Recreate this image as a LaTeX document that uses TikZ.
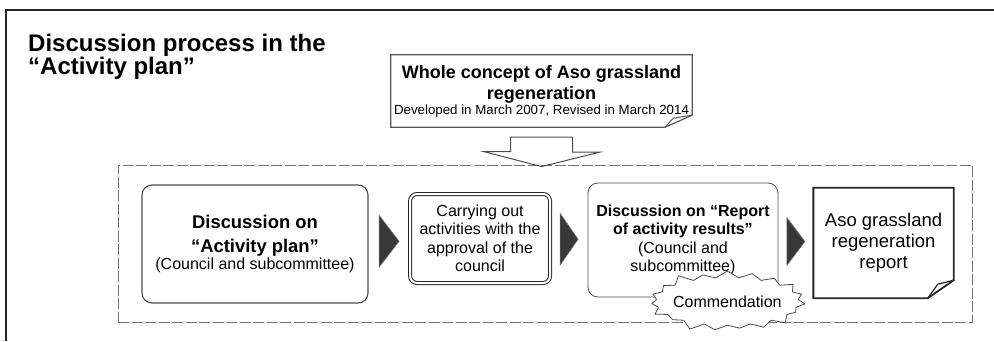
\documentclass[tikz,border=0pt]{standalone}
\usepackage{fontspec}
\setmainfont{Liberation Sans}
\usetikzlibrary{positioning,calc,shapes.symbols}
\tikzset{
  stage/.style={rectangle, rounded corners=10pt, draw=black!70, line width=1.1pt,
    align=center, inner sep=0pt},
  approved/.style={rectangle, rounded corners=7pt, draw=black!85, double=white,
    double distance=2pt, line width=1pt, align=center, inner sep=0pt},
  docbox/.style={rectangle, align=center, inner sep=0pt},
  docline/.style={draw=black!85, line width=1.8pt, line join=miter},
  grpbox/.style={rectangle, draw=black!55, dash pattern=on 11pt off 2.5pt,
    line width=0.9pt, inner sep=0pt},
  hollow/.style={draw=black!70, line width=1pt, line join=miter},
  tri/.style={fill=black!78, draw=black!55, line width=0.6pt},
  burst/.style={starburst, starburst points=19, starburst point height=9pt,
    inner xsep=-4pt, inner ysep=11pt, draw=black!70, fill=white, line width=0.8pt}
}

\begin{document}
\begin{tikzpicture}[x=1pt, y=1pt]
  \useasboundingbox (0,0) rectangle (994,341);
  % frame of the page
  \draw[black!85, line width=2pt] (994,331) -- (6,331) -- (6,0);

  \node[anchor=north west, align=left, inner sep=0pt,
    font=\fontsize{24}{22.5}\selectfont\bfseries] (ttl) at (28,307)
    {Discussion process in the\\“Activity plan”};

  % whole concept
  \node[docbox, minimum width=301, minimum height=72, font=\fontsize{18}{21}\selectfont] (wc) at (541.5,250)
    {\textbf{Whole concept of Aso grassland}\\\textbf{regeneration}\\[-6pt]{\fontsize{13.3}{15}\selectfont Developed in March 2007, Revised in March 2014}};
  \draw[hollow, draw=black!65, line width=1.2pt] (wc.north west) -- (wc.north east) -- ($(wc.south east)+(0,12)$)
    -- ($(wc.south east)+(-27,0)$) -- (wc.south west) -- cycle;
  \draw[hollow, draw=black!65] ($(wc.south east)+(-27,0)$) -- ($(wc.south east)+(-19,9)$) -- ($(wc.south east)+(0,12)$);

  % the group
  \node[grpbox, minimum width=854, minimum height=157] (grp) at (545,97.5) {};

  \coordinate (tip) at ($(wc.south |- grp.north)+(0,-2)$);
  \draw[hollow] ($(wc.south)+(-31,-10)$) -- ++(62,0) -- ++(0,-15) -- ++(27,0) -- (tip)
    -- ++(-58,15) -- ++(27,0) -- cycle;

  % steps
  \node[stage, minimum width=226, minimum height=118, font=\fontsize{18.4}{24}\selectfont\bfseries] (b1) at (255,97)
    {Discussion on\\“Activity plan”\\[-7pt]{\mdseries\fontsize{16}{18}\selectfont (Council and subcommittee)}};
  \node[approved, right=41pt of b1, yshift=5.5pt, minimum width=140, minimum height=89,
    font=\fontsize{16}{18.5}\selectfont] (b2)
    {Carrying out\\activities with the\\approval of the\\council};
  \node[stage, right=37pt of b2, yshift=-1.5pt, line width=0.8pt, minimum width=190, minimum height=114,
    font=\fontsize{16}{17.5}\selectfont] (b3)
    {\textbf{Discussion on “Report}\\\textbf{of activity results”}\\[2pt](Council and\\subcommittee)};
  \node[docbox, right=35pt of b3, yshift=-3pt, minimum width=140, minimum height=110,
    font=\fontsize{18.5}{21}\selectfont] (b4)
    {Aso grassland\\regeneration\\report};
  \draw[docline] (b4.north west) -- (b4.north east) -- ($(b4.south east)+(0,18)$)
    -- ($(b4.south east)+(-26,0)$) -- (b4.south west) -- cycle;
  \draw[docline, line width=1.2pt] ($(b4.south east)+(-26,0)$) -- ($(b4.south east)+(-16,14)$) -- ($(b4.south east)+(0,18)$);

  \node[burst, font=\fontsize{16}{18}\selectfont] (cm) at ($(b3.south east)+(-51,-4)$) {Commendation};

  % arrows between the steps
  \coordinate (t1) at ($(b1.east)!0.5!(b2.west)$);
  \coordinate (t2) at ($(b2.east)!0.5!(b3.west)$);
  \coordinate (t3) at ($(b3.east)!0.5!(b4.west)$);
  \filldraw[tri] ($(t1)+(-10,26)$) -- ($(t1)+(10,0)$) -- ($(t1)+(-10,-26)$) -- cycle;
  \filldraw[tri] ($(t2)+(-9,26)$) -- ($(t2)+(9,0)$) -- ($(t2)+(-9,-26)$) -- cycle;
  \filldraw[tri] ($(t3)+(-9,24)$) -- ($(t3)+(9,0)$) -- ($(t3)+(-9,-24)$) -- cycle;
\end{tikzpicture}
\end{document}
